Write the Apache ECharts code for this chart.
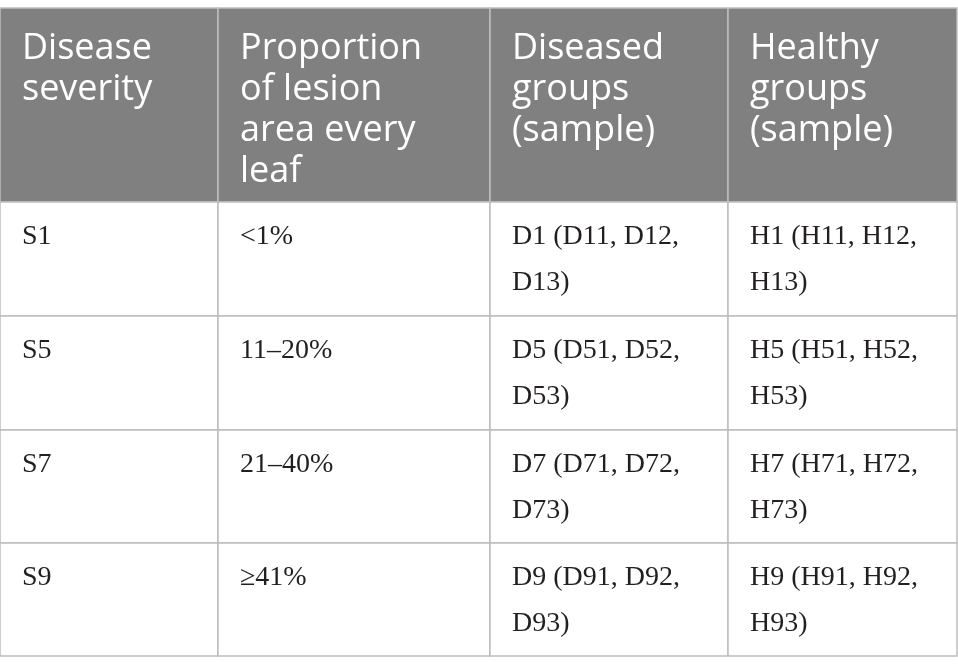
<!DOCTYPE html>
<html>
<head>
<meta charset="utf-8">
<title>Disease severity table</title>
<script src="https://cdn.jsdelivr.net/npm/echarts@6/dist/echarts.min.js"></script>
<style>
  html, body { margin: 0; padding: 0; background: #fff; }
  #main { width: 958px; height: 671px; }
</style>
</head>
<body>
<div id="main"></div>
<script>
// table content
var headers = ['Disease\nseverity', 'Proportion\nof lesion\narea every\nleaf', 'Diseased\ngroups\n(sample)', 'Healthy\ngroups\n(sample)'];
var severity = ['S1', 'S5', 'S7', 'S9'];
var lesionArea = ['<1%', '11\u201320%', '21\u201340%', '\u226541%'];
var diseased = ['D1 (D11, D12,\nD13)', 'D5 (D51, D52,\nD53)', 'D7 (D71, D72,\nD73)', 'D9 (D91, D92,\nD93)'];
var healthy = ['H1 (H11, H12,\nH13)', 'H5 (H51, H52,\nH53)', 'H7 (H71, H72,\nH73)', 'H9 (H91, H92,\nH93)'];

// layout (cell edges in page units)
var colEdges = [0, 218, 490, 728, 957];
var rowEdges = [8, 202, 316, 430, 543, 656];

var columns = [severity, lesionArea, diseased, healthy];
var cells = [];
headers.forEach(function (h, c) { cells.push([c, 0, h]); });
severity.forEach(function (s, r) {
    columns.forEach(function (col, c) { cells.push([c, r + 1, col[r]]); });
});

var myChart = echarts.init(document.getElementById('main'));

myChart.setOption({
    animation: false,
    grid: { left: 0, right: 0, top: 0, bottom: 0 },
    xAxis: { type: 'value', min: 0, max: 958, show: false },
    yAxis: { type: 'value', min: 0, max: 671, inverse: true, show: false },
    series: [{
        type: 'custom',
        data: cells,
        renderItem: function (params, api) {
            var c = api.value(0), r = api.value(1);
            var text = cells[params.dataIndex][2];
            var p0 = api.coord([colEdges[c], rowEdges[r]]);
            var p1 = api.coord([colEdges[c + 1], rowEdges[r + 1]]);
            var isHead = r === 0;
            return {
                type: 'group',
                children: [{
                    type: 'rect',
                    shape: { x: p0[0], y: p0[1], width: p1[0] - p0[0], height: p1[1] - p0[1] },
                    style: { fill: isHead ? '#7f807f' : '#fff', stroke: '#bdbdbd', lineWidth: 1.5 }
                }, {
                    type: 'text',
                    style: {
                        text: text,
                        x: p0[0] + 22,
                        y: p0[1] + (isHead ? 20 : 12),
                        fill: isHead ? '#fff' : '#231f20',
                        fontFamily: isHead ? '"Open Sans", sans-serif' : '"Liberation Serif", serif',
                        fontSize: isHead ? 36 : 28,
                        fontWeight: 'normal',
                        lineHeight: isHead ? 41 : 46,
                        verticalAlign: 'top',
                        align: 'left'
                    }
                }]
            };
        }
    }]
});
</script>
</body>
</html>
